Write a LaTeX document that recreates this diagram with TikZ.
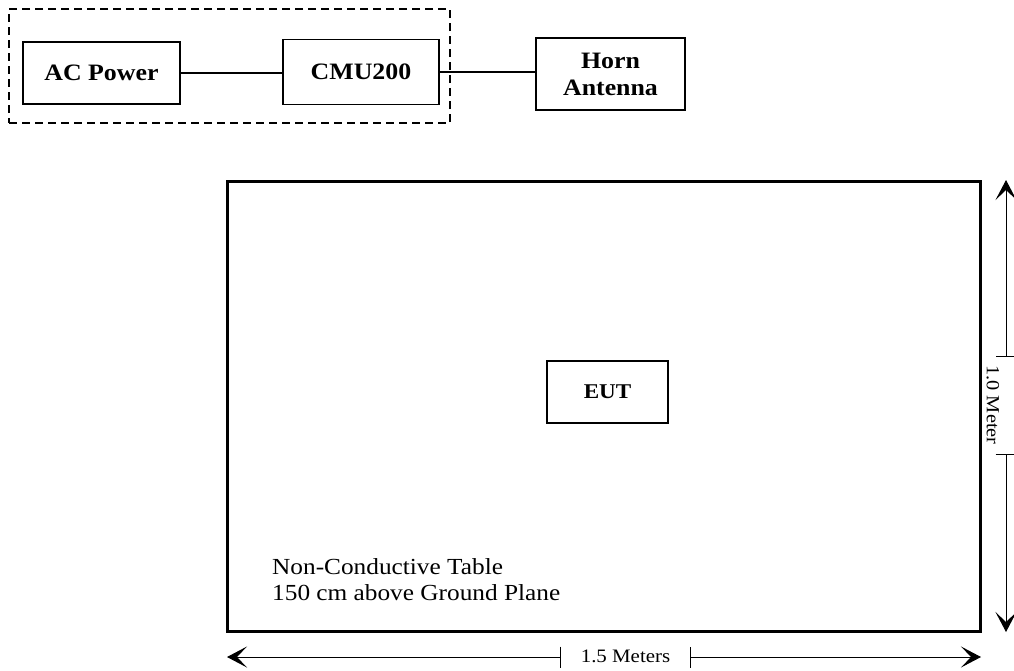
\documentclass[tikz,border=0pt]{standalone}
\usepackage{fontspec}
\setmainfont{Liberation Serif}[FakeStretch=1.1]
\usetikzlibrary{arrows.meta}
\begin{document}
\begin{tikzpicture}[x=1pt,y=-1pt,
  box/.style={draw, line width=1.4pt, inner sep=0pt, align=center,
    font=\fontsize{23.5}{27}\selectfont\bfseries},
  grp/.style={draw, line width=1.5pt, dash pattern=on 8pt off 5pt, inner sep=0pt},
  conn/.style={line width=1.4pt},
  dim/.style={line width=1pt},
  dimtxt/.style={inner sep=0pt, font=\fontsize{19}{22}\selectfont},
  dimarrow/.style={dim, {Bar[width=21pt,line width=1pt]}-{Stealth[length=20pt,width=21pt,inset=10pt,line width=1pt]}}
]
\useasboundingbox (0,0) rectangle (1014,670);
% group
\node[grp, minimum width=441pt, minimum height=114pt] (grp) at (229.5,66) {};
% top boxes
\node[box, minimum width=157pt, minimum height=62pt] (ac) at (101.5,73) {AC Power};
\node[box, minimum width=156pt, minimum height=65pt] (cmu) at (361,72) {CMU200};
\node[box, minimum width=149pt, minimum height=72pt] (horn) at (610.5,74) {Horn\\Antenna};
\draw[conn] (ac.east) -- (ac.east -| cmu.west);
\draw[conn] (cmu.east) -- (cmu.east -| horn.west);
% table
\node[draw, line width=3pt, minimum width=753pt, minimum height=450pt, inner sep=0pt] (table) at (603.5,406) {};
\node[box, line width=1.4pt, minimum width=121pt, minimum height=62pt, font=\fontsize{21}{25}\selectfont\bfseries] (eut) at (607.5,392) {EUT};
\node[anchor=north west, inner sep=0pt, align=left, font=\fontsize{23}{26.7}\selectfont] (lbl) at (272,558) {Non-Conductive Table\\150 cm above Ground Plane};
% horizontal dimension
\coordinate (hl) at (227,657);
\coordinate (hr) at (981,657);
\coordinate (hm1) at (561,657);
\coordinate (hm2) at (690,657);
\draw[dimarrow] (hm1) -- (hl);
\draw[dimarrow] (hm2) -- (hr);
\node[dimtxt] (htxt) at (625.5,656) {1.5 Meters};
% vertical dimension
\coordinate (vt) at (1006,180);
\coordinate (vb) at (1006,632);
\coordinate (vm1) at (1006,357);
\coordinate (vm2) at (1006,454);
\draw[dimarrow] (vm1) -- (vt);
\draw[dimarrow] (vm2) -- (vb);
\node[dimtxt, rotate=-90, font=\fontsize{18.5}{22}\selectfont] (vtxt) at (993,405) {1.0 Meter};
\end{tikzpicture}
\end{document}
